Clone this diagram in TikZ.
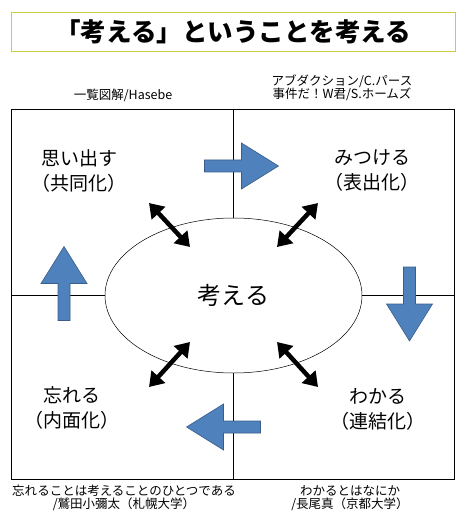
\documentclass[tikz,border=0pt]{standalone}
\usepackage{fontspec}
\setmainfont{Noto Sans CJK JP}
\usetikzlibrary{arrows.meta, shapes.geometric}

\definecolor{titlegold}{RGB}{204,204,68}
\definecolor{pushblue}{RGB}{79,129,189}
\definecolor{pushedge}{RGB}{56,93,138}

\begin{document}
\begin{tikzpicture}[x=1pt, y=-1pt,
        quad/.style={align=center, font=\fontsize{19}{25}\selectfont},
        small/.style={align=center, font=\fontsize{12.5}{13}\selectfont},
        bothway/.style={{Triangle[length=14pt,width=18pt]}-{Triangle[length=14pt,width=18pt]}, line width=4.5pt},
        pushArrow/.pic={\filldraw[fill=pushblue, draw=pushedge, line width=0.6pt]
            (-37,-6) -- (0,-6) -- (0,-23) -- (37,0) -- (0,23) -- (0,6) -- (-37,6) -- cycle;}]
        \useasboundingbox (0,0) rectangle (467,526);

        % title
        \node[draw=titlegold, line width=1pt, minimum width=444pt, minimum height=39pt,
            font=\fontsize{25.5}{28}\selectfont\bfseries] (title) at (233,32) {「考える」ということを考える};

        % frame
        \coordinate (boxNW) at (11,109);
        \coordinate (boxSE) at (454,479);
        \draw[line width=0.7pt] (boxNW) rectangle (boxSE);

        \node[draw, ellipse, line width=0.5pt, minimum width=257pt, minimum height=155pt, inner sep=0pt,
            fill=white, font=\fontsize{24}{28}\selectfont] (think) at (233.5,295.5) {考える};
        \draw[line width=0.7pt] (think.north) -- (think.north |- boxNW);
        \draw[line width=0.7pt] (think.south) -- (think.south |- boxSE);
        \draw[line width=0.7pt] (think.west) -- (think.west -| boxNW);
        \draw[line width=0.7pt] (think.east) -- (think.east -| boxSE);

        % quadrants
        \node[quad] (recall) at (79,171) {思い出す\\（共同化）};
        \node[quad] (find) at (372,171) {みつける\\（表出化）};
        \node[quad] (forget) at (72,408) {忘れる\\（内面化）};
        \node[quad] (grasp) at (378,409) {わかる\\（連結化）};

        % sources
        \node[small] (srcA) at (123,95) {一覧図解/Hasebe};
        \node[small] (srcB) at (342,88) {アブダクション/C.パース\\事件だ！W君/S.ホームズ};
        \node[small] (srcC) at (124,498) {忘れることは考えることのひとつである\\/鷲田小彌太（札幌大学）};
        \node[small] (srcD) at (350,498) {わかるとはなにか\\/長尾真（京都大学）};

        % cycle arrows
        \foreach \cx/\cy/\turn in {241.5/166/0, 409.5/304/-90, 223.5/427/180, 64/283.5/90}
            \pic[rotate=\turn] at (\cx,\cy) {pushArrow};

        % links to the ellipse
        \coordinate (tlA) at (149,203);
        \coordinate (tlB) at (190,247);
        \coordinate (trA) at (318,203);
        \coordinate (trB) at (277,247);
        \coordinate (blA) at (149,387);
        \coordinate (blB) at (190,342);
        \coordinate (brA) at (318,387);
        \coordinate (brB) at (277,342);
        \foreach \p in {tl, tr, bl, br}
            \draw[bothway] (\p A) -- (\p B);
\end{tikzpicture}
\end{document}
